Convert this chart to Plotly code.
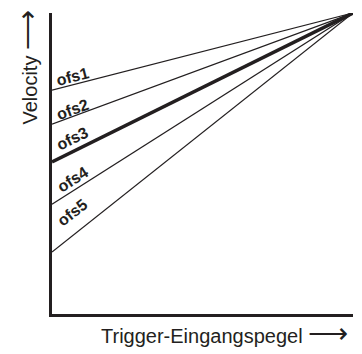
import plotly.graph_objects as go

labels = ["ofs1", "ofs2", "ofs3", "ofs4", "ofs5"]
intercepts = [0.744, 0.631, 0.505, 0.365, 0.206]
end_x = [0.0, 1.0]
end_y = 1.0

ink = "#231f20"
widths = [1.2, 1.2, 3.5, 1.2, 1.2]
label_shift = [8.5, 7.5, 13, 12, 23]
label_angle = [14.3, 20.2, 26.3, 32.4, 38.4]
label_x = 0.068

fig = go.Figure()
for name, b, w in zip(labels, intercepts, widths):
    fig.add_trace(go.Scatter(x=end_x, y=[b, end_y], mode="lines",
                             line=dict(color=ink, width=w), name=name,
                             showlegend=False, hoverinfo="skip"))

for name, b, s, a in zip(labels, intercepts, label_shift, label_angle):
    yv = b + (end_y - b) * label_x
    fig.add_annotation(x=label_x, y=yv, xref="x", yref="y", text="<b>" + name + "</b>",
                       showarrow=False, textangle=-a, yshift=s,
                       font=dict(family="Liberation Sans, Arial", size=16, color=ink))

arrow = '<span style="font-size:28px">⟶</span>'
fig.add_annotation(x=-0.083, y=0.819, xref="paper", yref="paper", text="Velocity " + arrow,
                   showarrow=False, textangle=-90, xanchor="center", yanchor="middle",
                   font=dict(family="Liberation Sans, Arial", size=20, color=ink))
fig.add_annotation(x=0.573, y=-0.066, xref="paper", yref="paper",
                   text="Trigger-Eingangspegel " + arrow,
                   showarrow=False, xanchor="center", yanchor="middle",
                   font=dict(family="Liberation Sans, Arial", size=20, color=ink))

fig.update_xaxes(range=[0, 1], showline=True, linecolor=ink, linewidth=2.5,
                 showgrid=False, zeroline=False, showticklabels=False, ticks="")
fig.update_yaxes(range=[0, 1], showline=True, linecolor=ink, linewidth=2.5,
                 showgrid=False, zeroline=False, showticklabels=False, ticks="")
# page body adds an 8px margin, so the figure is sized/offset to compensate
fig.update_layout(width=354, height=346, margin=dict(l=44, r=9, t=5, b=40),
                  plot_bgcolor="white", paper_bgcolor="white")
fig.write_html("out.html")
